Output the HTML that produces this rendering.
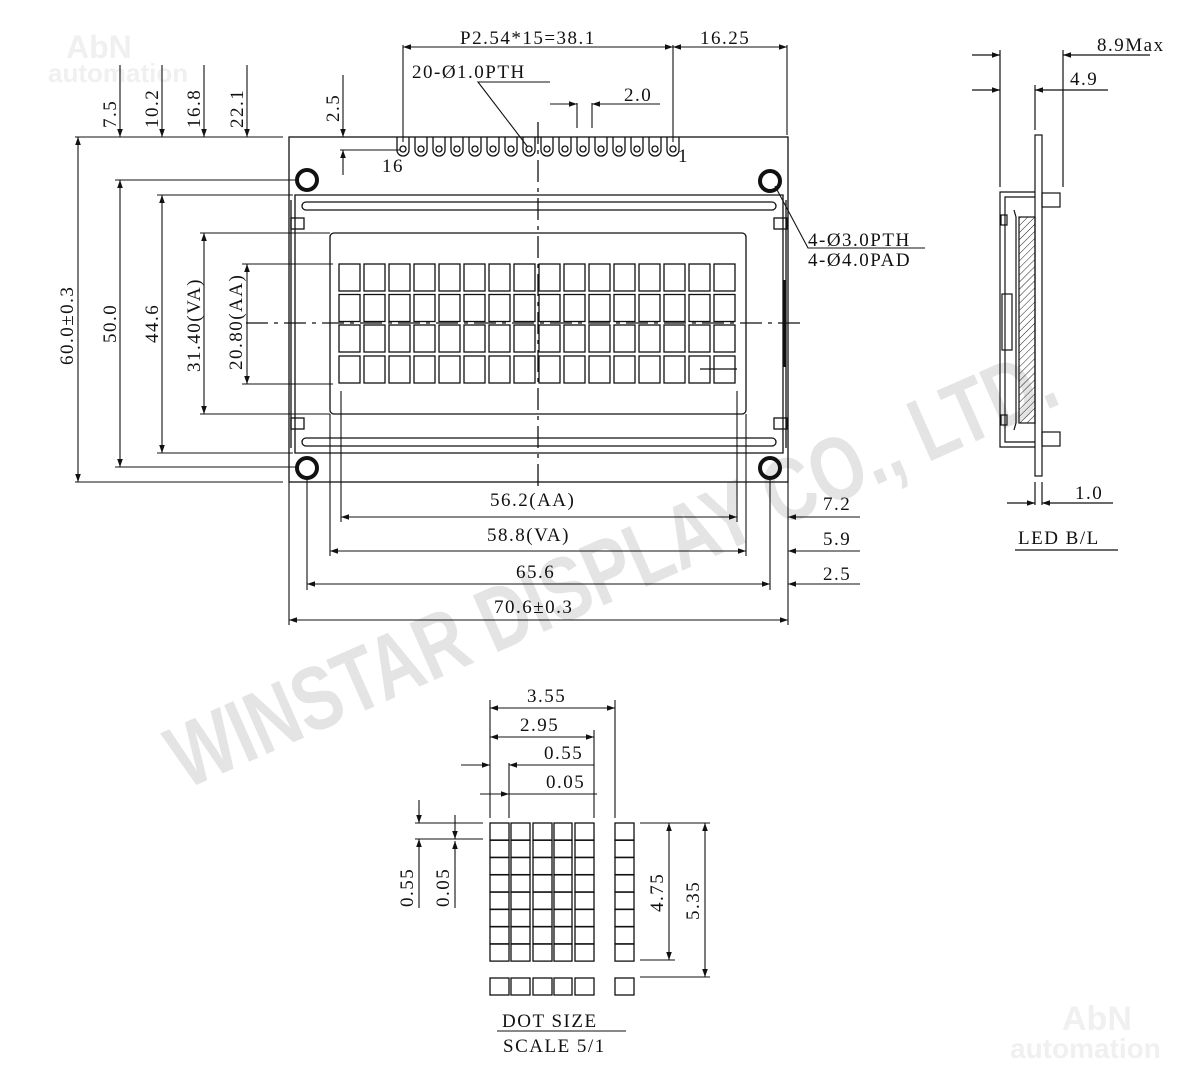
<!DOCTYPE html>
<html><head><meta charset="utf-8"><style>
html,body{margin:0;padding:0;background:#fff}
svg{display:block}
text{font-family:"Liberation Serif",serif;font-size:19px;fill:#111;letter-spacing:1.5px}
text.wm{font-family:"Liberation Sans",sans-serif;font-weight:bold;fill:#e4e4e4;letter-spacing:0}
</style></head><body>
<svg width="1200" height="1077" viewBox="0 0 1200 1077" xmlns="http://www.w3.org/2000/svg">
<defs>
<marker id="a" viewBox="0 0 10 10" refX="10" refY="5" markerWidth="10" markerHeight="8" orient="auto-start-reverse" markerUnits="userSpaceOnUse"><path d="M0,1.5 L10,5 L0,8.5z" fill="#111"/></marker>
<pattern id="h" width="5" height="5" patternUnits="userSpaceOnUse" patternTransform="rotate(45)"><line x1="0" y1="0" x2="0" y2="5" stroke="#222" stroke-width="1"/></pattern>
</defs>
<text class="wm" x="66" y="58" style="font-size:32px;fill:#f0f0f0">AbN</text>
<text class="wm" x="48" y="82" style="font-size:26px;fill:#f0f0f0">automation</text>
<text class="wm" x="1062" y="1030" style="font-size:34px;fill:#f0f0f0">AbN</text>
<text class="wm" x="1010" y="1058" style="font-size:28px;fill:#f0f0f0">automation</text>
<g transform="translate(185,790) rotate(-23.8) scale(0.77,1)">
<text class="wm" x="0" y="0" style="font-size:90px">WINSTAR DISPLAY CO., LTD.</text>
</g>

<g stroke="#111" fill="none" stroke-width="1.3">
<rect x="289" y="137" width="499" height="345"/>
<path d="M295,195 H783 V453 H295 Z"/>
<path d="M291,200 V448" />
<path d="M786,200 V448" />
<rect x="302" y="202" width="474" height="8" rx="4"/>
<rect x="302" y="438" width="474" height="8" rx="4"/>
<rect x="291" y="218" width="13" height="11"/><rect x="774" y="218" width="13" height="11"/>
<rect x="291" y="418" width="13" height="11"/><rect x="774" y="418" width="13" height="11"/>
<line x1="784" y1="280" x2="784" y2="367" stroke-width="3"/>
<rect x="330" y="233" width="416" height="181" rx="4"/>
<g stroke-width="4"><circle cx="307" cy="180" r="10"/><circle cx="770" cy="181" r="10"/><circle cx="307" cy="468" r="10"/><circle cx="770" cy="468" r="10"/></g>
<g id="pins">
<path d="M397,137 V150 a6,6 0 0 0 12,0 V137"/><circle cx="403" cy="149" r="3"/>
</g>
<use href="#pins" x="18"/><use href="#pins" x="36"/><use href="#pins" x="54"/><use href="#pins" x="72"/><use href="#pins" x="90"/><use href="#pins" x="108"/><use href="#pins" x="126"/><use href="#pins" x="144"/><use href="#pins" x="162"/><use href="#pins" x="180"/><use href="#pins" x="198"/><use href="#pins" x="216"/><use href="#pins" x="234"/><use href="#pins" x="252"/><use href="#pins" x="270"/>
<g id="row">
<rect x="339" y="264" width="21" height="27"/><rect x="364" y="264" width="21" height="27"/><rect x="389" y="264" width="21" height="27"/><rect x="414" y="264" width="21" height="27"/><rect x="439" y="264" width="21" height="27"/><rect x="464" y="264" width="21" height="27"/><rect x="489" y="264" width="21" height="27"/><rect x="514" y="264" width="21" height="27"/><rect x="539" y="264" width="21" height="27"/><rect x="564" y="264" width="21" height="27"/><rect x="589" y="264" width="21" height="27"/><rect x="614" y="264" width="21" height="27"/><rect x="639" y="264" width="21" height="27"/><rect x="664" y="264" width="21" height="27"/><rect x="689" y="264" width="21" height="27"/><rect x="714" y="264" width="21" height="27"/>
</g>
<use href="#row" y="30.5"/><use href="#row" y="61"/><use href="#row" y="92"/>
<line x1="246" y1="323" x2="800" y2="323" stroke-dasharray="22,6,4,6"/>
<line x1="538" y1="122" x2="538" y2="492" stroke-dasharray="22,6,4,6"/>
<line x1="700" y1="369" x2="737" y2="369"/>
</g>

<g stroke="#111" fill="none" stroke-width="1.1">
<line x1="75" y1="137" x2="283" y2="137"/>
<line x1="75" y1="482" x2="283" y2="482"/>
<line x1="115" y1="180" x2="297" y2="180"/>
<line x1="115" y1="467" x2="297" y2="467"/>
<line x1="157" y1="195" x2="293" y2="195"/>
<line x1="157" y1="453" x2="293" y2="453"/>
<line x1="200" y1="233" x2="330" y2="233"/>
<line x1="200" y1="414" x2="330" y2="414"/>
<line x1="242" y1="264" x2="333" y2="264"/>
<line x1="242" y1="384" x2="333" y2="384"/>
<line x1="78" y1="137" x2="78" y2="482" marker-start="url(#a)" marker-end="url(#a)"/>
<line x1="120" y1="180" x2="120" y2="467" marker-start="url(#a)" marker-end="url(#a)"/>
<line x1="162" y1="195" x2="162" y2="453" marker-start="url(#a)" marker-end="url(#a)"/>
<line x1="204" y1="233" x2="204" y2="414" marker-start="url(#a)" marker-end="url(#a)"/>
<line x1="247" y1="264" x2="247" y2="384" marker-start="url(#a)" marker-end="url(#a)"/>
<line x1="120" y1="65" x2="120" y2="137" marker-end="url(#a)"/>
<line x1="162" y1="65" x2="162" y2="137" marker-end="url(#a)"/>
<line x1="204" y1="65" x2="204" y2="137" marker-end="url(#a)"/>
<line x1="247" y1="65" x2="247" y2="137" marker-end="url(#a)"/>
<line x1="343" y1="75" x2="343" y2="137" marker-end="url(#a)"/>
<line x1="343" y1="175" x2="343" y2="150" marker-end="url(#a)"/>
<line x1="340" y1="150" x2="400" y2="150"/>
<line x1="403" y1="45" x2="403" y2="142"/>
<line x1="673" y1="45" x2="673" y2="142"/>
<line x1="787" y1="45" x2="787" y2="135"/>
<line x1="403" y1="47" x2="673" y2="47" marker-start="url(#a)" marker-end="url(#a)"/>
<line x1="673" y1="47" x2="787" y2="47" marker-start="url(#a)" marker-end="url(#a)"/>
<polyline points="550,82 478,82 527,146"/>
<line x1="577" y1="103" x2="577" y2="128"/><line x1="592" y1="103" x2="592" y2="128"/>
<line x1="550" y1="104" x2="577" y2="104" marker-end="url(#a)"/>
<line x1="660" y1="104" x2="592" y2="104" marker-end="url(#a)"/>
<polyline points="775,186 808,248 925,248"/>
<line x1="341" y1="391" x2="341" y2="522"/>
<line x1="737" y1="391" x2="737" y2="522"/>
<line x1="330" y1="414" x2="330" y2="556"/>
<line x1="746" y1="414" x2="746" y2="556"/>
<line x1="307" y1="478" x2="307" y2="590"/>
<line x1="770" y1="478" x2="770" y2="590"/>
<line x1="289" y1="482" x2="289" y2="625"/>
<line x1="788" y1="482" x2="788" y2="625"/>
<line x1="341" y1="517" x2="737" y2="517" marker-start="url(#a)" marker-end="url(#a)"/>
<line x1="860" y1="517" x2="788" y2="517" marker-end="url(#a)"/>
<line x1="330" y1="551" x2="746" y2="551" marker-start="url(#a)" marker-end="url(#a)"/>
<line x1="860" y1="551" x2="788" y2="551" marker-end="url(#a)"/>
<line x1="307" y1="584" x2="770" y2="584" marker-start="url(#a)" marker-end="url(#a)"/>
<line x1="860" y1="584" x2="788" y2="584" marker-end="url(#a)"/>
<line x1="289" y1="620" x2="788" y2="620" marker-start="url(#a)" marker-end="url(#a)"/>
</g>

<g>
<text x="460" y="44">P2.54*15=38.1</text>
<text x="700" y="44">16.25</text>
<text x="412" y="78">20-Ø1.0PTH</text>
<text x="624" y="101">2.0</text>
<text x="382" y="172">16</text>
<text x="678" y="162">1</text>
<text x="808" y="246">4-Ø3.0PTH</text>
<text x="808" y="266">4-Ø4.0PAD</text>
<text transform="translate(116,128) rotate(-90)">7.5</text>
<text transform="translate(158,128) rotate(-90)">10.2</text>
<text transform="translate(200,128) rotate(-90)">16.8</text>
<text transform="translate(243,128) rotate(-90)">22.1</text>
<text transform="translate(339,122) rotate(-90)">2.5</text>
<text transform="translate(73,365) rotate(-90)">60.0±0.3</text>
<text transform="translate(116,343) rotate(-90)">50.0</text>
<text transform="translate(158,343) rotate(-90)">44.6</text>
<text transform="translate(200,372) rotate(-90)">31.40(VA)</text>
<text transform="translate(242,370) rotate(-90)">20.80(AA)</text>
<text x="490" y="506">56.2(AA)</text>
<text x="823" y="510">7.2</text>
<text x="487" y="541">58.8(VA)</text>
<text x="823" y="545">5.9</text>
<text x="516" y="578">65.6</text>
<text x="823" y="580">2.5</text>
<text x="494" y="613">70.6±0.3</text>
</g>

<g stroke="#111" fill="none" stroke-width="1.2">
<rect x="1035" y="135" width="7" height="341"/>
<path d="M1035,192 H1000 V447 H1035"/>
<path d="M1035,197 H1005 V442 H1035"/>
<rect x="1042" y="193" width="18" height="14"/>
<rect x="1042" y="432" width="18" height="14"/>
<rect x="1019" y="217" width="16" height="206" fill="url(#h)"/>
<path d="M1014,210 L1016,217 V423 L1014,430"/>
<rect x="1002" y="294" width="10" height="56"/>
<rect x="1001" y="215" width="6" height="10"/><rect x="1001" y="415" width="6" height="10"/>
<line x1="1000" y1="50" x2="1000" y2="187"/>
<line x1="1063" y1="50" x2="1063" y2="187"/>
<line x1="1035" y1="85" x2="1035" y2="130"/>
<line x1="972" y1="55" x2="1000" y2="55" marker-end="url(#a)"/>
<line x1="1150" y1="55" x2="1063" y2="55" marker-end="url(#a)"/>
<line x1="972" y1="90" x2="1000" y2="90" marker-end="url(#a)"/>
<line x1="1108" y1="90" x2="1035" y2="90" marker-end="url(#a)"/>
<line x1="1035" y1="482" x2="1035" y2="505"/>
<line x1="1042" y1="482" x2="1042" y2="505"/>
<line x1="1007" y1="503" x2="1035" y2="503" marker-end="url(#a)"/>
<line x1="1113" y1="503" x2="1042" y2="503" marker-end="url(#a)"/>
<line x1="1015" y1="550" x2="1118" y2="550"/>
</g>
<text x="1097" y="51">8.9Max</text>
<text x="1070" y="85">4.9</text>
<text x="1075" y="499">1.0</text>
<text x="1018" y="544">LED B/L</text>

<g stroke="#111" fill="none" stroke-width="1.3">
<g id="dr">
<rect x="490" y="823" width="19" height="17"/><rect x="511" y="823" width="19" height="17"/><rect x="533" y="823" width="19" height="17"/><rect x="554" y="823" width="18" height="17"/><rect x="575" y="823" width="19" height="17"/><rect x="615" y="823" width="19" height="17"/>
</g>
<use href="#dr" y="17.3"/><use href="#dr" y="34.6"/><use href="#dr" y="51.9"/><use href="#dr" y="69.2"/><use href="#dr" y="86.5"/><use href="#dr" y="103.8"/><use href="#dr" y="121.1"/>
<use href="#dr" y="155"/>
</g>
<g stroke="#111" fill="none" stroke-width="1.1">
<line x1="490" y1="700" x2="490" y2="818"/>
<line x1="615" y1="700" x2="615" y2="818"/>
<line x1="594" y1="730" x2="594" y2="818"/>
<line x1="509" y1="763" x2="509" y2="818"/>
<line x1="490" y1="708" x2="615" y2="708" marker-start="url(#a)" marker-end="url(#a)"/>
<line x1="490" y1="737" x2="594" y2="737" marker-start="url(#a)" marker-end="url(#a)"/>
<line x1="461" y1="765" x2="490" y2="765" marker-end="url(#a)"/>
<line x1="594" y1="765" x2="509" y2="765" marker-end="url(#a)"/>
<line x1="480" y1="794" x2="509" y2="794" marker-end="url(#a)"/>
<line x1="597" y1="794" x2="509" y2="794"/>
<line x1="415" y1="823" x2="483" y2="823"/>
<line x1="415" y1="839" x2="483" y2="839"/>
<line x1="419" y1="800" x2="419" y2="823" marker-end="url(#a)"/>
<line x1="419" y1="908" x2="419" y2="839" marker-end="url(#a)"/>
<line x1="455" y1="815" x2="455" y2="839" marker-end="url(#a)"/>
<line x1="455" y1="908" x2="455" y2="841" marker-end="url(#a)"/>
<line x1="640" y1="823" x2="710" y2="823"/>
<line x1="640" y1="960" x2="675" y2="960"/>
<line x1="640" y1="977" x2="710" y2="977"/>
<line x1="669" y1="823" x2="669" y2="960" marker-start="url(#a)" marker-end="url(#a)"/>
<line x1="705" y1="823" x2="705" y2="977" marker-start="url(#a)" marker-end="url(#a)"/>
<line x1="497" y1="1031" x2="626" y2="1031"/>
</g>
<text x="527" y="702">3.55</text>
<text x="520" y="731">2.95</text>
<text x="544" y="759">0.55</text>
<text x="546" y="788">0.05</text>
<text transform="translate(413,907) rotate(-90)">0.55</text>
<text transform="translate(449,907) rotate(-90)">0.05</text>
<text transform="translate(663,912) rotate(-90)">4.75</text>
<text transform="translate(699,920) rotate(-90)">5.35</text>
<text x="502" y="1027">DOT SIZE</text>
<text x="503" y="1052">SCALE 5/1</text>
</svg>
</body></html>
